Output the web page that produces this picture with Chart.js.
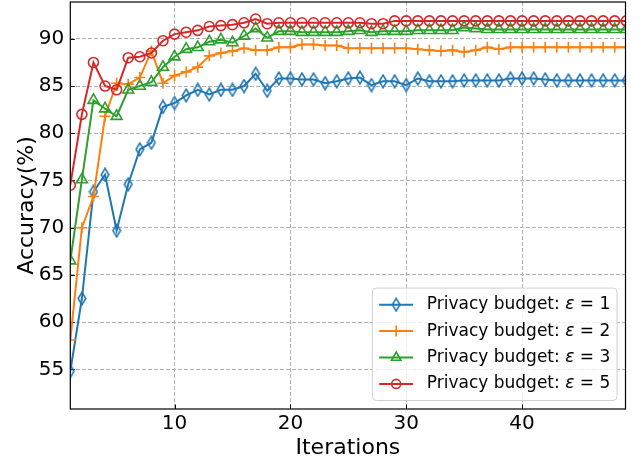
<!DOCTYPE html>
<html lang="en">
<head>
<meta charset="UTF-8">
<title>Accuracy vs Iterations</title>
<script src="https://cdn.jsdelivr.net/npm/chart.js"></script>
<style>
  html, body { margin: 0; padding: 0; background: #fff; }
  #wrap { width: 641px; height: 466px; }
</style>
</head>
<body>
<div id="wrap"><canvas id="accChart" width="641" height="466"></canvas></div>
<script>
// iterations on the x axis
const iterations = [1, 2, 3, 4, 5, 6, 7, 8, 9, 10, 11, 12, 13, 14, 15, 16, 17, 18, 19, 20,
  21, 22, 23, 24, 25, 26, 27, 28, 29, 30, 31, 32, 33, 34, 35, 36, 37, 38, 39, 40,
  41, 42, 43, 44, 45, 46, 47, 48, 49];

// accuracy (%) per privacy budget
const accEps1 = [54.8, 62.5, 73.8, 75.6, 69.7, 74.6, 78.3, 79.0, 82.8, 83.2,
  84.0, 84.6, 84.1, 84.6, 84.6, 85.0, 86.3, 84.5, 85.8, 85.8,
  85.7, 85.7, 85.3, 85.5, 85.8, 85.9, 85.1, 85.5, 85.5, 85.1,
  85.8, 85.5, 85.5, 85.5, 85.6, 85.6, 85.6, 85.6, 85.8, 85.8,
  85.8, 85.7, 85.6, 85.6, 85.6, 85.6, 85.6, 85.6, 85.6];
const accEps2 = [58.1, 70.0, 73.3, 81.8, 85.3, 85.2, 85.9, 88.7, 85.3, 86.1,
  86.5, 87.0, 88.2, 88.5, 88.7, 89.0, 88.8, 88.8, 89.1, 89.1,
  89.4, 89.4, 89.3, 89.3, 89.0, 89.0, 89.0, 89.0, 89.0, 89.0,
  88.9, 88.8, 88.7, 88.8, 88.6, 88.8, 89.1, 88.9, 89.1, 89.1,
  89.1, 89.1, 89.1, 89.1, 89.1, 89.1, 89.1, 89.1, 89.1];
const accEps3 = [66.5, 75.1, 83.5, 82.6, 81.8, 84.6, 85.0, 85.4, 87.0, 88.1,
  88.9, 89.1, 89.7, 89.9, 89.6, 90.3, 91.1, 90.1, 90.8, 90.8,
  90.7, 90.7, 90.7, 90.7, 90.8, 90.9, 90.7, 90.8, 90.8, 90.8,
  90.9, 90.9, 90.9, 90.9, 91.2, 91.1, 91.0, 91.0, 91.0, 91.0,
  91.0, 91.0, 91.0, 91.0, 91.0, 91.0, 91.0, 91.0, 91.0];
const accEps5 = [74.5, 82.0, 87.5, 85.0, 84.6, 88.0, 88.1, 88.5, 89.8, 90.5,
  90.7, 90.9, 91.3, 91.4, 91.5, 91.7, 92.1, 91.6, 91.7, 91.7,
  91.7, 91.7, 91.7, 91.7, 91.7, 91.7, 91.6, 91.6, 91.9, 91.9,
  91.9, 91.9, 91.9, 91.9, 91.9, 91.9, 91.9, 91.9, 91.9, 91.9,
  91.9, 91.9, 91.9, 91.9, 91.9, 91.9, 91.9, 91.9, 91.9];

const seriesLabels = ['Privacy budget: ε = 1', 'Privacy budget: ε = 2',
  'Privacy budget: ε = 3', 'Privacy budget: ε = 5'];
const xTicks = [10, 20, 30, 40];
const yTicks = [55, 60, 65, 70, 75, 80, 85, 90];

const FONT = "'DejaVu Sans', sans-serif";
const colors = ['#1f77b4', '#ff7f0e', '#2ca02c', '#d62728'];

// thin diamond marker (matplotlib 'd')
function thinDiamond(color) {
  const c = document.createElement('canvas');
  c.width = 10; c.height = 15;
  const g = c.getContext('2d');
  g.strokeStyle = color;
  g.lineWidth = 1.6;
  g.beginPath();
  g.moveTo(5, 1.2); g.lineTo(8.8, 7.5); g.lineTo(5, 13.8); g.lineTo(1.2, 7.5);
  g.closePath();
  g.stroke();
  return c;
}
const diamond = thinDiamond(colors[0]);

function toPoints(vals) {
  return iterations.map((x, i) => ({ x: x, y: vals[i] }));
}

function makeSet(i, vals, style, radius) {
  return {
    label: seriesLabels[i],
    data: toPoints(vals),
    borderColor: colors[i],
    backgroundColor: 'rgba(0,0,0,0)',
    borderWidth: 2,
    pointStyle: style,
    pointRadius: radius,
    pointBorderWidth: 1.6,
    pointBorderColor: colors[i],
    pointBackgroundColor: 'rgba(0,0,0,0)',
    tension: 0,
    order: 4 - i
  };
}

function drawMarker(ctx, style, color, x, y, r) {
  ctx.save();
  ctx.strokeStyle = color;
  ctx.lineWidth = 1.6;
  ctx.beginPath();
  if (style === 'circle') {
    ctx.arc(x, y, r, 0, Math.PI * 2);
  } else if (style === 'triangle') {
    ctx.moveTo(x, y - r);
    ctx.lineTo(x + r * 0.866, y + r * 0.5);
    ctx.lineTo(x - r * 0.866, y + r * 0.5);
    ctx.closePath();
  } else if (style === 'cross') {
    ctx.moveTo(x - r, y); ctx.lineTo(x + r, y);
    ctx.moveTo(x, y - r); ctx.lineTo(x, y + r);
  } else {
    ctx.drawImage(style, x - style.width / 2, y - style.height / 2);
    ctx.restore();
    return;
  }
  ctx.stroke();
  ctx.restore();
}

const extras = {
  id: 'extras',
  beforeDatasetsDraw(chart) {
    // inward tick marks
    const { ctx, chartArea: a, scales } = chart;
    ctx.save();
    ctx.strokeStyle = '#000';
    ctx.lineWidth = 1;
    ctx.beginPath();
    xTicks.forEach(v => {
      const px = Math.round(scales.x.getPixelForValue(v)) + 0.5;
      ctx.moveTo(px, a.bottom); ctx.lineTo(px, a.bottom - 4.5);
    });
    yTicks.forEach(v => {
      const py = Math.round(scales.y.getPixelForValue(v)) + 0.5;
      ctx.moveTo(a.left, py); ctx.lineTo(a.left + 4.5, py);
    });
    ctx.stroke();
    ctx.restore();
  },
  afterDraw(chart) {
    const { ctx, chartArea: a } = chart;
    // frame
    ctx.save();
    ctx.strokeStyle = '#000';
    ctx.lineWidth = 1.2;
    ctx.strokeRect(a.left, a.top, a.right - a.left, a.bottom - a.top);

    // legend, lower right inside the axes
    const fs = 17;
    const normal = fs + 'px ' + FONT;
    const ital = 'italic ' + fs + 'px ' + FONT;
    const parts = chart.data.datasets.map(ds => ds.label.split('ε'));
    let maxW = 0;
    parts.forEach(p => {
      ctx.font = normal;
      let w = ctx.measureText(p[0]).width + ctx.measureText(p[1]).width;
      ctx.font = ital;
      w += ctx.measureText('ε').width;
      maxW = Math.max(maxW, w);
    });
    const rowH = 26.4;
    const boxW = 6.8 + 34 + 13.6 + maxW + 6.8;
    const boxH = rowH * 4 + 6.8;
    const right = a.right - 8.5, bottom = a.bottom - 8.5;
    const left = right - boxW, top = bottom - boxH;
    const rr = 4;
    ctx.beginPath();
    ctx.moveTo(left + rr, top);
    ctx.arcTo(right, top, right, bottom, rr);
    ctx.arcTo(right, bottom, left, bottom, rr);
    ctx.arcTo(left, bottom, left, top, rr);
    ctx.arcTo(left, top, right, top, rr);
    ctx.closePath();
    ctx.fillStyle = 'rgba(255,255,255,0.8)';
    ctx.fill();
    ctx.strokeStyle = '#d0d0d0';
    ctx.lineWidth = 1;
    ctx.stroke();

    chart.data.datasets.forEach((ds, i) => {
      const cy = top + 3.4 + rowH / 2 + i * rowH;
      const hx = left + 6.8;
      ctx.strokeStyle = ds.borderColor;
      ctx.lineWidth = 2;
      ctx.beginPath();
      ctx.moveTo(hx, cy); ctx.lineTo(hx + 34, cy);
      ctx.stroke();
      drawMarker(ctx, ds.pointStyle, ds.borderColor, hx + 17, cy, ds.pointStyle === 'circle' ? 4.5 : 5.5);
      let tx = hx + 34 + 13.6;
      ctx.fillStyle = '#000';
      ctx.textBaseline = 'middle';
      ctx.textAlign = 'left';
      ctx.font = normal;
      ctx.fillText(parts[i][0], tx, cy);
      tx += ctx.measureText(parts[i][0]).width;
      ctx.font = ital;
      ctx.fillText('ε', tx, cy);
      tx += ctx.measureText('ε').width;
      ctx.font = normal;
      ctx.fillText(parts[i][1], tx, cy);
    });
    ctx.restore();
  }
};

const tickFont = { family: FONT, size: 20 };
const titleFont = { family: FONT, size: 22 };

new Chart(document.getElementById('accChart'), {
  type: 'line',
  data: {
    datasets: [
      makeSet(0, accEps1, diamond, 5),
      makeSet(1, accEps2, 'cross', 5.5),
      makeSet(2, accEps3, 'triangle', 6.3),
      makeSet(3, accEps5, 'circle', 5)
    ]
  },
  options: {
    responsive: false,
    animation: false,
    layout: { autoPadding: false, padding: { top: 2, right: 15.5, left: 0, bottom: 0 } },
    plugins: { legend: { display: false }, tooltip: { enabled: false } },
    scales: {
      x: {
        type: 'linear',
        min: 1,
        max: 48.93,
        afterBuildTicks: s => { s.ticks = xTicks.map(v => ({ value: v })); },
        afterFit: s => { s.height = 57; s.paddingLeft = 0; s.paddingRight = 0; },
        grid: { color: '#b0b0b0', lineWidth: 1, drawTicks: false },
        border: { display: false, dash: [4, 2] },
        ticks: { color: '#000', font: tickFont, padding: 3, maxRotation: 0 },
        title: { display: true, text: 'Iterations', color: '#000', font: titleFont,
          padding: { top: 0, bottom: 5 } }
      },
      y: {
        type: 'linear',
        min: 50.8,
        max: 93.9,
        afterBuildTicks: s => { s.ticks = yTicks.map(v => ({ value: v })); },
        afterFit: s => { s.width = 70.3; s.paddingTop = 0; s.paddingBottom = 0; },
        grid: { color: '#b0b0b0', lineWidth: 1, drawTicks: false },
        border: { display: false, dash: [4, 2] },
        ticks: { color: '#000', font: tickFont, padding: 6 },
        title: { display: true, text: 'Accuracy(%)', color: '#000', font: titleFont,
          padding: { top: 14, bottom: 0 } }
      }
    }
  },
  plugins: [extras]
});
</script>
</body>
</html>
